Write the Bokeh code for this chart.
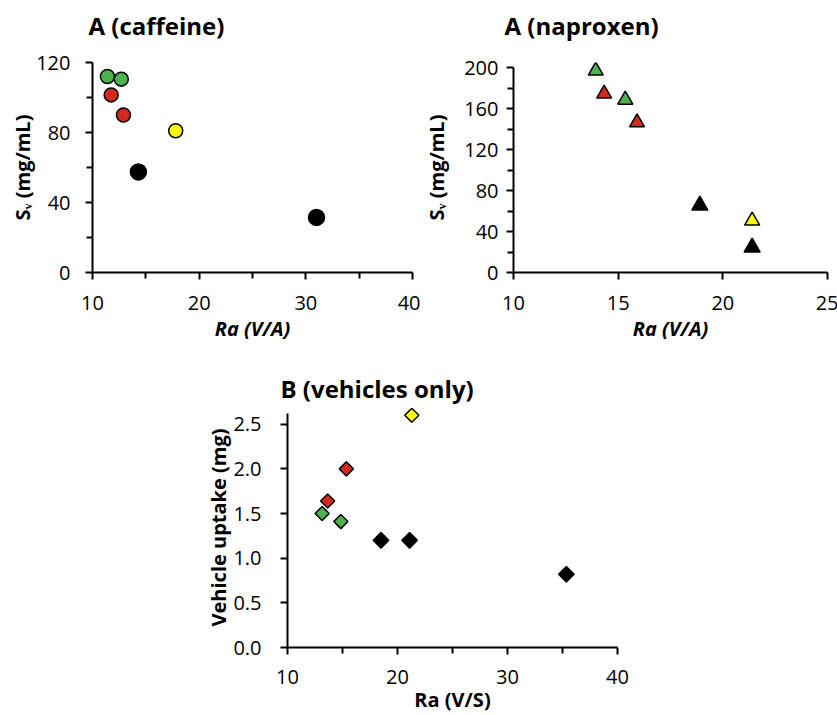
from bokeh.plotting import figure
from bokeh.models import FixedTicker, Range1d, Spacer, PrintfTickFormatter, Label
from bokeh.layouts import row, column
from bokeh.embed import file_html
from bokeh.resources import INLINE

GREEN = "#4cb24e"
RED = "#d22a1c"
YELLOW = "#ffff00"
BLACK = "#000000"
FONT = "Open Sans"

# ---- Panel A (caffeine): Ra (V/A) vs Sv (mg/mL)
caf_green_x = [11.4, 12.7]
caf_green_y = [112.0, 110.5]
caf_red_x = [11.75, 12.9]
caf_red_y = [101.5, 90.0]
caf_yellow_x = [17.8]
caf_yellow_y = [81.0]
caf_black_x = [14.3, 31.0]
caf_black_y = [57.5, 31.5]

# ---- Panel A (naproxen)
nap_green_x = [13.93, 15.34]
nap_green_y = [197.0, 168.5]
nap_red_x = [14.33, 15.9]
nap_red_y = [174.5, 146.5]
nap_yellow_x = [21.4]
nap_yellow_y = [50.5]
nap_black_x = [18.9, 21.4]
nap_black_y = [65.5, 24.5]

# ---- Panel B (vehicles only)
veh_green_x = [13.15, 14.85]
veh_green_y = [1.50, 1.41]
veh_red_x = [13.65, 15.35]
veh_red_y = [1.64, 2.00]
veh_yellow_x = [21.3]
veh_yellow_y = [2.60]
veh_black_x = [18.5, 21.1, 35.35]
veh_black_y = [1.20, 1.20, 0.82]

caf_xticks = [10, 20, 30, 40]
caf_xminor = [15, 25, 35]
caf_yticks = [0, 40, 80, 120]
caf_yminor = [20, 60, 100]
nap_xticks = [10, 15, 20, 25]
nap_yticks = [0, 40, 80, 120, 160, 200]
nap_yminor = [20, 60, 100, 140, 180]
veh_xticks = [10, 20, 30, 40]
veh_xminor = [15, 25, 35]
veh_yticks = [0.0, 0.5, 1.0, 1.5, 2.0, 2.5]

titles = ["A (caffeine)", "A (naproxen)", "B (vehicles only)"]


def make_fig(fw, fh, bl, br, bt, bb, xr, yr):
    p = figure(frame_width=fw, frame_height=fh, min_border_left=bl, min_border_right=br,
               min_border_top=bt, min_border_bottom=bb,
               x_range=Range1d(*xr), y_range=Range1d(*yr),
               output_backend="svg", toolbar_location=None,
               background_fill_color="white", border_fill_color="white")
    p.outline_line_color = None
    p.xgrid.visible = False
    p.ygrid.visible = False
    for ax in (p.xaxis[0], p.yaxis[0]):
        ax.axis_line_width = 2
        ax.axis_line_color = "black"
        ax.major_tick_line_width = 2
        ax.minor_tick_line_width = 2
        ax.major_tick_line_color = "black"
        ax.minor_tick_line_color = "black"
        ax.major_tick_in = 0
        ax.major_tick_out = 7
        ax.minor_tick_in = 0
        ax.minor_tick_out = 6
        ax.major_label_text_font = FONT
        ax.major_label_text_font_size = "20px"
        ax.major_label_text_color = "black"
        ax.axis_label_text_font = FONT
        ax.axis_label_text_font_size = "20px"
        ax.axis_label_text_font_style = "bold"
        ax.axis_label_text_color = "black"
    return p


def title_fig(w, h, text, tx, ty):
    # blank strip holding a panel title (pixel coordinates, y downwards)
    t = figure(width=w, height=h, x_range=Range1d(0, w), y_range=Range1d(h, 0),
               min_border=0, x_axis_location=None, y_axis_location=None,
               output_backend="svg", toolbar_location=None,
               background_fill_color="white", border_fill_color="white")
    t.outline_line_color = None
    t.xgrid.visible = False
    t.ygrid.visible = False
    t.add_layout(Label(x=tx, y=ty, text=text, text_font=FONT, text_font_size="24px",
                       text_font_style="bold", text_color="black",
                       text_align="left", text_baseline="alphabetic"))
    return t


t1 = title_fig(420, 50, titles[0], 88, 25)
t2 = title_fig(417, 50, titles[1], 84, 25)
t3 = title_fig(457, 53, titles[2], 80, 34)

# Panel A (caffeine)
p1 = make_fig(320, 210, 92, 8, 12, 82, (10, 40), (0, 120))
p1.xaxis.ticker = FixedTicker(ticks=caf_xticks, minor_ticks=caf_xminor)
p1.yaxis.ticker = FixedTicker(ticks=caf_yticks, minor_ticks=caf_yminor)
p1.xaxis.axis_label = "Ra (V/A)"
p1.xaxis.axis_label_text_font_style = "bold italic"
p1.yaxis.axis_label = "S\u1d65 (mg/mL)"
p1.xaxis.major_label_standoff = 16
p1.xaxis.axis_label_standoff = 2
p1.yaxis.major_label_standoff = 15
p1.yaxis.axis_label_standoff = -3
for xs, ys, c, s in ((caf_green_x, caf_green_y, GREEN, 14), (caf_red_x, caf_red_y, RED, 14),
                     (caf_yellow_x, caf_yellow_y, YELLOW, 14), (caf_black_x, caf_black_y, BLACK, 16)):
    p1.scatter(xs, ys, marker="circle", size=s, fill_color=c, line_color="black", line_width=1.5)

# Panel A (naproxen)
p2 = make_fig(314, 210, 92, 11, 12, 82, (10, 25), (0, 205))
p2.xaxis.ticker = FixedTicker(ticks=nap_xticks)
p2.yaxis.ticker = FixedTicker(ticks=nap_yticks, minor_ticks=nap_yminor)
p2.yaxis.bounds = (0, 200)
p2.xaxis.axis_label = "Ra (V/A)"
p2.xaxis.axis_label_text_font_style = "bold italic"
p2.yaxis.axis_label = "S\u1d65 (mg/mL)"
p2.xaxis.major_label_standoff = 16
p2.xaxis.axis_label_standoff = 2
p2.yaxis.major_label_standoff = 8
p2.yaxis.axis_label_standoff = 11
for xs, ys, c, s in ((nap_green_x, nap_green_y, GREEN, 15), (nap_red_x, nap_red_y, RED, 15),
                     (nap_yellow_x, nap_yellow_y, YELLOW, 15), (nap_black_x, nap_black_y, BLACK, 16)):
    p2.scatter(xs, ys, marker="triangle", size=s, fill_color=c, line_color="black", line_width=1.5)

# Panel B (vehicles only)
p3 = make_fig(330, 240, 87, 40, 0, 68, (10, 40), (0, 2.687))
p3.xaxis.ticker = FixedTicker(ticks=veh_xticks, minor_ticks=veh_xminor)
p3.yaxis.ticker = FixedTicker(ticks=veh_yticks)
p3.yaxis.formatter = PrintfTickFormatter(format="%.1f")
p3.yaxis.bounds = (0, 2.62)
p3.xaxis.axis_label = "Ra (V/S)"
p3.yaxis.axis_label = "Vehicle uptake (mg)"
p3.xaxis.major_label_standoff = 15
p3.xaxis.axis_label_standoff = -1
p3.yaxis.major_label_standoff = 19
p3.yaxis.axis_label_standoff = -2
for xs, ys, c, s in ((veh_green_x, veh_green_y, GREEN, 10), (veh_red_x, veh_red_y, RED, 10),
                     (veh_yellow_x, veh_yellow_y, YELLOW, 10), (veh_black_x, veh_black_y, BLACK, 11)):
    p3.scatter(xs, ys, marker="square", angle=0.785398, size=s, fill_color=c,
               line_color="black", line_width=1.5)

layout = column(row(t1, t2), row(p1, p2),
                row(Spacer(width=200, height=53), t3),
                row(Spacer(width=200, height=308), p3))

open("out.html", "w").write(file_html(layout, INLINE))
